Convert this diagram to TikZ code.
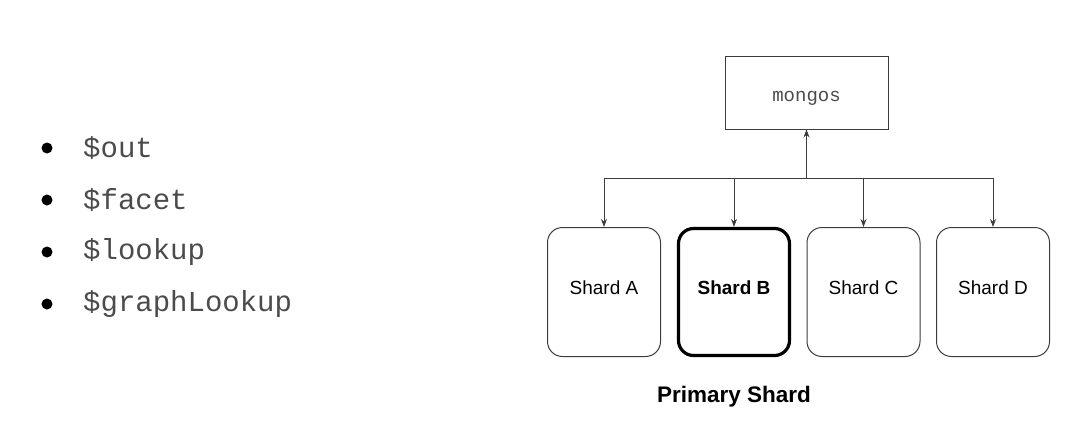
\documentclass[tikz,border=0pt]{standalone}
\usepackage{fontspec}
\setmainfont{Liberation Sans}
\setmonofont{Liberation Mono}
\usepackage{tikz}
\usetikzlibrary{positioning,arrows.meta}
\definecolor{codegray}{RGB}{75,75,75}
\definecolor{linegray}{RGB}{60,60,60}

\begin{document}
\begin{tikzpicture}[
  x=1pt, y=-1pt,
  shard/.style={draw=linegray, line width=1pt, rounded corners=15pt,
    minimum width=113pt, minimum height=129pt, text height=14pt, text depth=10pt,
    font=\fontsize{19}{22}\selectfont},
  primary/.style={shard, draw=black, line width=3.2pt, minimum width=111pt,
    minimum height=127pt, font=\bfseries\fontsize{19}{22}\selectfont},
  router/.style={draw=linegray, line width=1pt, minimum width=163pt,
    minimum height=73pt, text height=18pt, text depth=0pt, text=codegray,
    font=\ttfamily\fontsize{19}{22}\selectfont},
  dot/.style={circle, fill=black, inner sep=0pt, minimum size=11pt},
  stage/.style={anchor=west, inner sep=0pt, text=codegray,
    font=\ttfamily\fontsize{29}{31}\selectfont},
  >={Stealth[length=8pt,width=6pt]}
]
\useasboundingbox (0,0) rectangle (1071,424);

% Stages listed on the left
\node[dot] (b1) at (47,148) {};
\node[stage] (out) at (83,148) {\$out};
\node[dot] (b2) at (47,200) {};
\node[stage] (facet) at (83,200) {\$facet};
\node[dot] (b3) at (47,252) {};
\node[stage] (lookup) at (83,252) {\$lookup};
\node[dot] (b4) at (47,304) {};
\node[stage] (graph) at (83,304) {\$graphLookup};

% Router and shards
\node[router] (mongos) at (806.5,92.5) {mongos};
\node[shard] (shardA) at (604,292) {Shard A};
\node[primary] (shardB) at (734,292) {Shard B};
\node[shard] (shardC) at (863.5,292) {Shard C};
\node[shard] (shardD) at (993,292) {Shard D};
\node[below=26pt of shardB, font=\bfseries\fontsize{22.5}{26}\selectfont] (label)
  {Primary Shard};

% Connections (bus between mongos and the shards)
\coordinate (bus) at (806.5,178);
\draw[->, linegray, line width=1pt] (bus) -- (mongos.south);
\draw[linegray, line width=1pt] (shardA.north |- bus) -- (shardD.north |- bus);
\foreach \s in {A,B,C,D}
  \draw[->, linegray, line width=1pt] (shard\s.north |- bus) -- (shard\s.north);

\end{tikzpicture}
\end{document}
